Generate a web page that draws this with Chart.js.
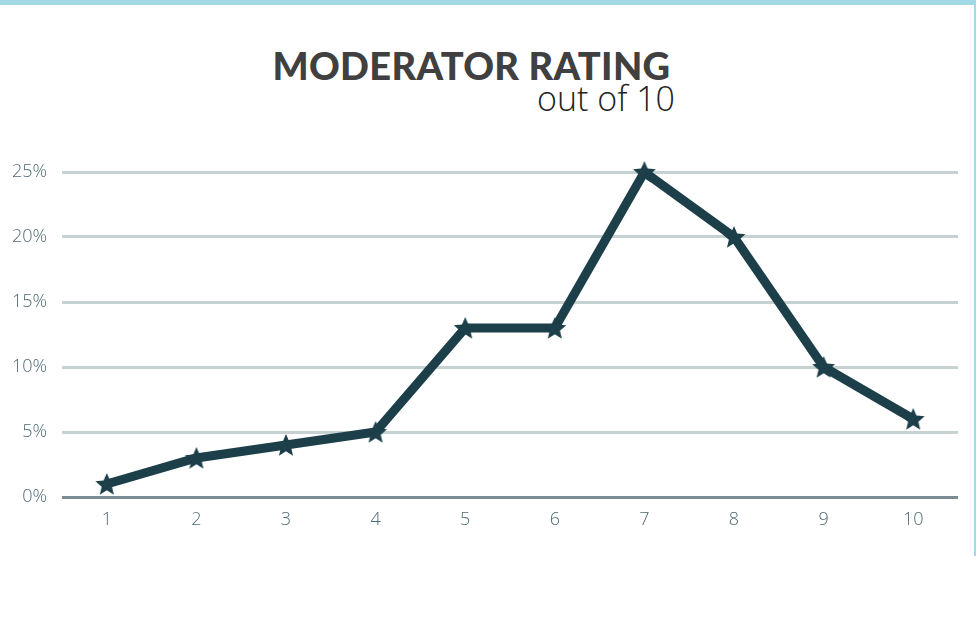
<!DOCTYPE html>
<html><head><meta charset="utf-8">
<script src="https://cdn.jsdelivr.net/npm/chart.js@4"></script>
<style>
html,body{margin:0;padding:0;background:#fff;width:976px;height:621px;overflow:hidden;position:relative;}
#topbar{position:absolute;left:0;top:0;width:976px;height:5px;background:#a3d9e7;}
#rightbar{position:absolute;left:974px;top:0;width:2px;height:556px;background:#a3d9e7;}
#title{position:absolute;left:0;width:943px;top:43px;text-align:center;font-family:Lato,sans-serif;font-weight:900;font-size:38px;letter-spacing:0.3px;color:#404040;line-height:44px;white-space:nowrap;}
#sub{position:absolute;right:301px;top:76px;font-family:'Open Sans',sans-serif;font-weight:300;font-size:34px;color:#222;line-height:44px;white-space:nowrap;}
#wrap{position:absolute;left:0;top:150px;width:976px;height:400px;}
</style></head><body>
<div id="topbar"></div><div id="rightbar"></div>
<div id="title">MODERATOR RATING</div>
<div id="sub">out of 10</div>
<div id="wrap"><canvas id="c"></canvas></div>
<script>
const categories = ['1','2','3','4','5','6','7','8','9','10'];
const ratingShare = [1, 3, 4, 5, 13, 13, 25, 20, 10, 6];
const yTicks = [0, 5, 10, 15, 20, 25];

function makeStar(r, color){
  const c = document.createElement('canvas');
  const s = Math.ceil(r*2+2);
  c.width = s; c.height = s;
  const g = c.getContext('2d');
  g.fillStyle = color;
  g.beginPath();
  for(let i=0;i<10;i++){
    const rad = i%2===0 ? r : r*0.45;
    const a = -Math.PI/2 + i*Math.PI/5;
    const x = s/2 + rad*Math.cos(a), y = s/2 + rad*Math.sin(a) + r*0.08;
    if(i===0) g.moveTo(x,y); else g.lineTo(x,y);
  }
  g.closePath(); g.fill();
  return c;
}
const star = makeStar(12, '#1c3f4a');

new Chart(document.getElementById('c'), {
  type: 'line',
  data: {
    labels: categories,
    datasets: [{
      data: ratingShare,
      borderColor: '#1c3f4a',
      backgroundColor: '#1c3f4a',
      borderWidth: 9,
      pointStyle: star,
      pointRadius: 12,
      clip: false,
      tension: 0
    }]
  },
  options: {
    responsive: true,
    maintainAspectRatio: false,
    animation: false,
    events: [],
    layout: { autoPadding: false, padding: { top: 22, right: 18, bottom: 13, left: 0 } },
    plugins: { legend: { display: false }, tooltip: { enabled: false }, title: { display: false } },
    scales: {
      x: {
        offset: true,
        grid: { display: false, drawTicks: false },
        border: { display: false },
        ticks: { color: '#4f6b75', padding: 12, font: { family: 'Open Sans', weight: 300, size: 18 } },
        afterFit: s => { s.height = 40; s.paddingLeft = 0; s.paddingRight = 0; }
      },
      y: {
        min: 0, max: 25,
        afterBuildTicks: s => { s.ticks = yTicks.map(v => ({ value: v })); },
        grid: {
          drawTicks: false,
          lineWidth: 3,
          color: ctx => ctx.tick && ctx.tick.value === 0 ? '#7b8d92' : '#c6d1d1'
        },
        border: { display: false },
        ticks: { color: '#4f6b75', padding: 15, font: { family: 'Open Sans', weight: 300, size: 18 }, callback: v => v + '%' },
        afterFit: s => { s.width = 62; s.paddingTop = 0; s.paddingBottom = 0; }
      }
    }
  }
});
</script>
</body></html>
